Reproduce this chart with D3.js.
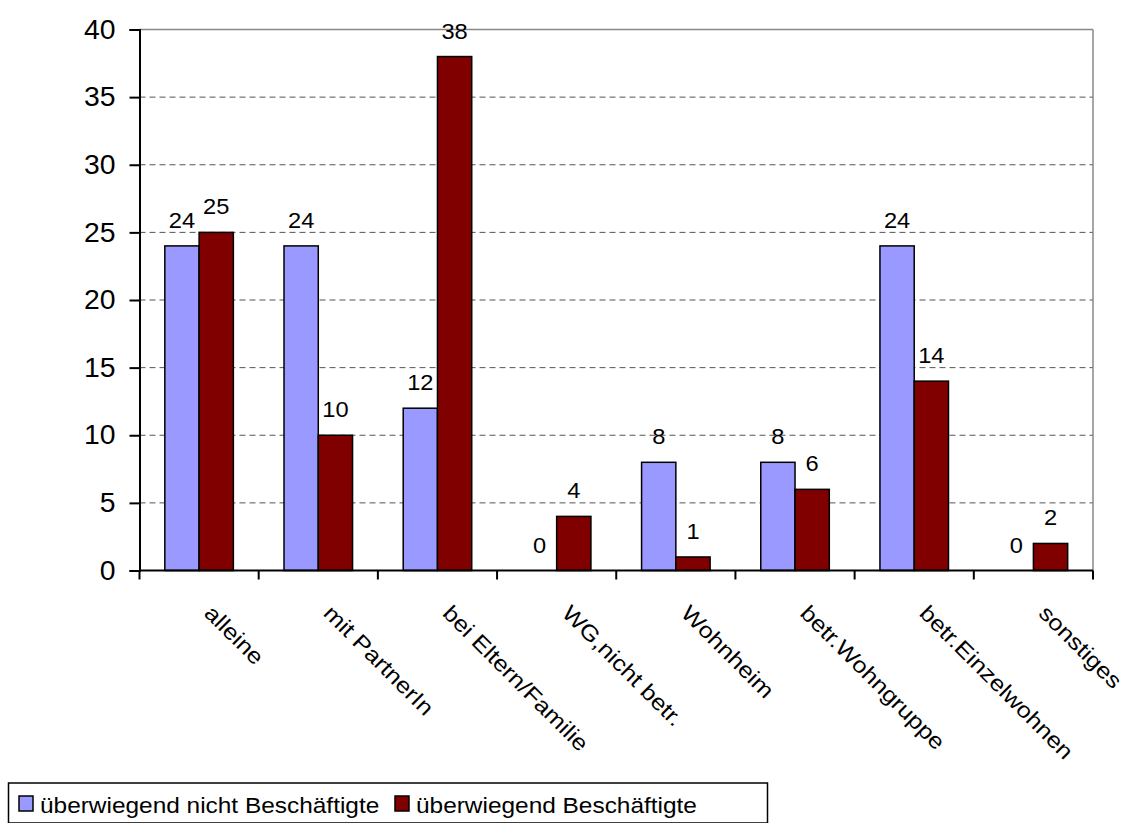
<!DOCTYPE html>
<html><head><meta charset="utf-8">
<script src="https://cdn.jsdelivr.net/npm/d3@7"></script>
<style>body{margin:0;background:#fff}svg{display:block}text{font-family:"Liberation Sans",Arial,sans-serif;fill:#000}</style>
</head><body>
<svg id="c" width="1128" height="823"></svg>
<script>
const categories = ["alleine","mit PartnerIn","bei Eltern/Familie","WG,nicht betr.","Wohnheim","betr.Wohngruppe","betr.Einzelwohnen","sonstiges"];
const seriesNames = ["überwiegend nicht Beschäftigte","überwiegend Beschäftigte"];
const nichtBeschaeftigte = [24,24,12,0,8,8,24,0];
const beschaeftigte = [25,10,38,4,1,6,14,2];
const yTicks = [0,5,10,15,20,25,30,35,40];
const colors = ["#9999FF","#800000"];

const svg = d3.select("#c");
const L=139.5, R=1093, T=29.5, B=570.5;
const x = d3.scaleBand().domain(categories).range([L,R]).paddingInner(0.425).paddingOuter(0.2125);
const xs = d3.scaleBand().domain([0,1]).range([0,x.bandwidth()]);
const y = d3.scaleLinear().domain([0,40]).range([B,T]);

// gridlines
svg.append("g").selectAll("line").data(yTicks.filter(t=>t>0&&t<40)).join("line")
  .attr("x1",L).attr("x2",R).attr("y1",d=>y(d)).attr("y2",d=>y(d))
  .attr("stroke","#555").attr("stroke-width",1).attr("stroke-dasharray","6,4");
// frame top and right
svg.append("line").attr("x1",L).attr("x2",R).attr("y1",y(40)).attr("y2",y(40)).attr("stroke","#888").attr("stroke-width",1.5);
svg.append("line").attr("x1",R).attr("x2",R).attr("y1",T).attr("y2",B).attr("stroke","#888").attr("stroke-width",1.5);

const series = [nichtBeschaeftigte, beschaeftigte];
series.forEach((vals,si)=>{
  const g = svg.append("g");
  const data = vals.map((v,i)=>({v,c:categories[i]}));
  g.selectAll("rect").data(data).join("rect")
    .attr("x",d=>x(d.c)+xs(si)).attr("width",xs.bandwidth())
    .attr("y",d=>y(d.v)).attr("height",d=>B-y(d.v))
    .attr("fill",colors[si]).attr("stroke","#000").attr("stroke-width",1.5)
    .style("display",d=>d.v===0?"none":null);
  g.selectAll("text").data(data).join("text")
    .attr("transform",d=>`translate(${x(d.c)+xs(si)+xs.bandwidth()/2},${y(d.v)-18}) scale(1.1,1)`)
    .attr("text-anchor","middle").attr("font-size",21.5).text(d=>d.v);
});

// y axis
const ya = svg.append("g").attr("transform",`translate(${L},0)`)
  .call(d3.axisLeft(y).tickValues(yTicks).tickSize(10).tickPadding(14).tickFormat(d3.format("d")));
ya.select(".domain").attr("stroke","#000").attr("stroke-width",2);
ya.selectAll(".tick line").attr("stroke","#000").attr("stroke-width",2);
ya.selectAll(".tick text").attr("font-size",27).attr("font-family","Liberation Sans, Arial, sans-serif").attr("fill","#000")
  .attr("x",null).attr("transform","translate(-24,0) scale(1.05,1)");

// x axis
const boundaries = categories.map(c=>x(c)-x.step()*x.paddingInner()/2).concat([R]);
svg.append("line").attr("x1",L).attr("x2",R).attr("y1",B).attr("y2",B).attr("stroke","#000").attr("stroke-width",2);
svg.append("g").selectAll("line").data(boundaries).join("line")
  .attr("x1",d=>d).attr("x2",d=>d).attr("y1",B).attr("y2",B+9).attr("stroke","#000").attr("stroke-width",2);
svg.append("g").selectAll("text").data(categories).join("text")
  .attr("transform",c=>`translate(${x(c)+x.bandwidth()/2+4},${B+44}) rotate(45) scale(1.15,1)`)
  .attr("font-size",22).text(c=>c);

// legend
const lg = svg.append("g");
lg.append("rect").attr("x",8.5).attr("y",783).attr("width",759).attr("height",40).attr("fill","#fff").attr("stroke","#000").attr("stroke-width",1.5);
const lx = [19,395];
seriesNames.forEach((n,i)=>{
  lg.append("rect").attr("x",lx[i]).attr("y",796).attr("width",14).attr("height",15).attr("fill",colors[i]).attr("stroke","#000").attr("stroke-width",1.5);
  lg.append("text").attr("transform",`translate(${lx[i]+21},812.5) scale(1.11,1)`).attr("font-size",22).text(n);
});
</script>
</body></html>
